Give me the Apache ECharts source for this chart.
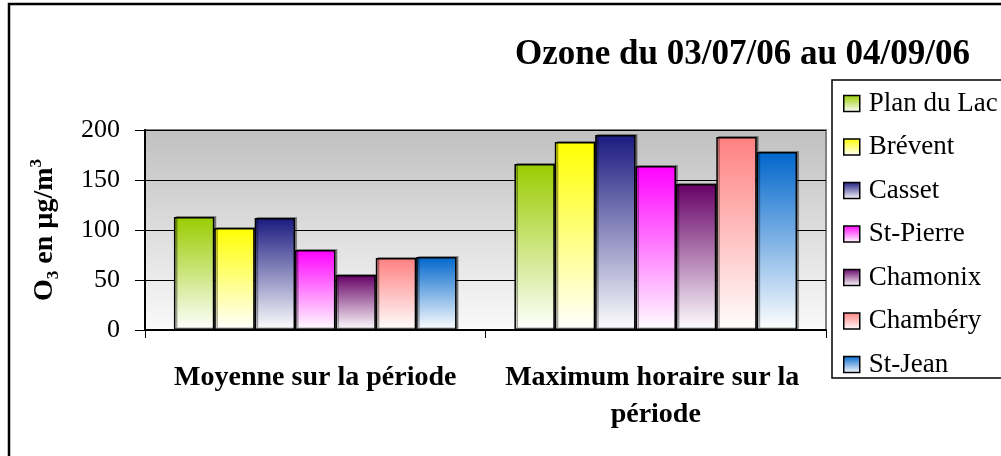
<!DOCTYPE html>
<html>
<head>
<meta charset="utf-8">
<script src="https://cdn.jsdelivr.net/npm/echarts@6/dist/echarts.min.js"></script>
<style>
  html, body { margin: 0; padding: 0; background: #fff; }
  #chart { width: 1001px; height: 456px; }
</style>
</head>
<body>
<div id="chart"></div>
<script>
// data
const categories = ["Moyenne sur la période", "Maximum horaire sur la période"];
const stations = ["Plan du Lac", "Brévent", "Casset", "St-Pierre", "Chamonix", "Chambéry", "St-Jean"];
const planDuLac = [113, 166];
const brevent = [102, 188];
const casset = [112, 195];
const stPierre = [80, 164];
const chamonix = [55, 146];
const chambery = [72, 193];
const stJean = [73, 178];
const yTicks = [0, 50, 100, 150, 200];

const values = [planDuLac, brevent, casset, stPierre, chamonix, chambery, stJean];
const topColors = ["#99cc00", "#ffff00", "#1a1a80", "#ff00ff", "#660066", "#ff8080", "#0066cc"];

const font = "'Liberation Serif', 'Times New Roman', serif";

function fade(c) {
  return new echarts.graphic.LinearGradient(0, 0, 0, 1, [
    { offset: 0, color: c },
    { offset: 1, color: "#ffffff" }
  ]);
}

const series = stations.map((name, i) => ({
  name,
  type: "bar",
  data: values[i],
  barGap: "0%",
  barCategoryGap: "17%",
  itemStyle: {
    color: fade(topColors[i]),
    borderColor: "#000",
    borderWidth: 1.5,
    shadowColor: "rgba(0,0,0,0.35)",
    shadowOffsetX: 2,
    shadowOffsetY: -1
  }
}));

const chart = echarts.init(document.getElementById("chart"));
chart.setOption({
  animation: false,
  backgroundColor: "#fff",
  title: {
    text: "Ozone du 03/07/06 au 04/09/06",
    left: 510,
    top: 32,
    textStyle: { fontFamily: font, fontSize: 35, fontWeight: "bold", color: "#000" }
  },
  grid: {
    left: 145, right: 175, top: 130, bottom: 126,
    show: true,
    backgroundColor: new echarts.graphic.LinearGradient(0, 0, 0, 1, [
      { offset: 0, color: "#c0c0c0" },
      { offset: 1, color: "#fafafa" }
    ]),
    borderColor: "#808080",
    borderWidth: 2
  },
  legend: {
    orient: "vertical",
    left: 838,
    top: 85,
    icon: "rect",
    itemWidth: 16,
    itemHeight: 16,
    itemGap: 16.5,
    data: stations,
    itemStyle: { borderColor: "#000", borderWidth: 1.5 },
    textStyle: { fontFamily: font, fontSize: 27, color: "#000", lineHeight: 27, padding: [0, 0, 0, 4] }
  },
  xAxis: {
    type: "category",
    data: categories,
    axisLine: { lineStyle: { color: "#000", width: 2 } },
    axisTick: { show: true, length: 8, lineStyle: { color: "#000" } },
    axisLabel: {
      interval: 0,
      margin: 29,
      width: 330,
      overflow: "break",
      lineHeight: 37,
      fontFamily: font,
      fontSize: 28,
      fontWeight: "bold",
      color: "#000"
    }
  },
  yAxis: {
    type: "value",
    min: yTicks[0],
    max: yTicks[yTicks.length - 1],
    interval: 50,
    name: "{a|O}{sub|3}{a| en µg/m}{sup|3}",
    nameLocation: "middle",
    nameRotate: 90,
    nameGap: 83,
    nameTextStyle: {
      rich: {
        a: { fontFamily: font, fontSize: 28, fontWeight: "bold", color: "#000", lineHeight: 34, verticalAlign: "middle" },
        sub: { fontFamily: font, fontSize: 17, fontWeight: "bold", color: "#000", lineHeight: 17, verticalAlign: "bottom" },
        sup: { fontFamily: font, fontSize: 17, fontWeight: "bold", color: "#000", lineHeight: 17, verticalAlign: "top" }
      }
    },
    axisLine: { show: true, lineStyle: { color: "#000", width: 2 } },
    axisTick: { show: true, inside: false, length: 10, lineStyle: { color: "#000" } },
    axisLabel: { margin: 25, fontFamily: font, fontSize: 26, color: "#000" },
    splitLine: { lineStyle: { color: "#000", width: 1.2 } }
  },
  graphic: [
    {
      type: "rect",
      shape: { x: 9, y: 4, width: 1100, height: 500 },
      style: { fill: null, stroke: "#000", lineWidth: 2.5 },
      silent: true
    },
    {
      type: "rect",
      shape: { x: 832, y: 80, width: 200, height: 298 },
      style: { fill: null, stroke: "#000", lineWidth: 1.5 },
      silent: true
    }
  ],
  series
});
</script>
</body>
</html>
